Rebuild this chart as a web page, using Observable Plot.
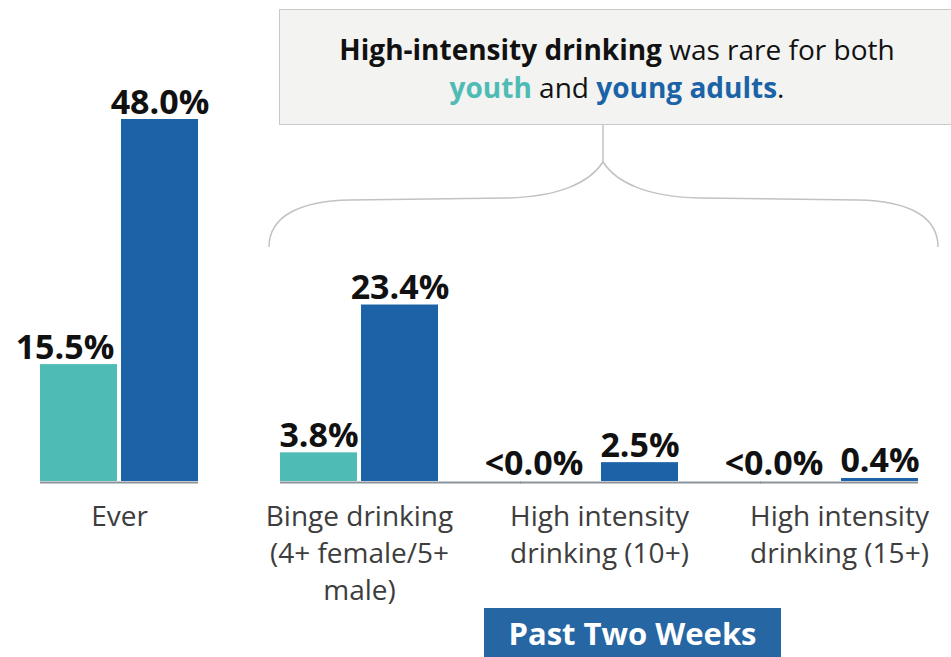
<!DOCTYPE html>
<html><head><meta charset="utf-8">
<script src="https://cdn.jsdelivr.net/npm/d3@7"></script>
<script src="https://cdn.jsdelivr.net/npm/@observablehq/plot@0.6"></script>
<style>
html,body{margin:0;padding:0;background:#fff;overflow:hidden;}
#wrap{position:relative;width:951px;height:657px;overflow:hidden;font-family:"Open Sans",sans-serif;}
#chart svg{display:block;}
#note{position:absolute;left:279px;top:9px;width:676px;height:116px;box-sizing:border-box;border:1.5px solid #c9c9c9;background:#f3f3f2;}
#noteText{position:absolute;left:0;right:0;top:20px;text-align:center;font-size:28px;line-height:38px;color:#111;white-space:nowrap;}
#noteText b{font-weight:700;}
#brace{position:absolute;left:0;top:0;}
#period{position:absolute;left:484px;top:608px;width:297px;height:60px;background:#2666a3;color:#fff;font-weight:700;font-size:31px;line-height:31px;text-align:center;box-sizing:border-box;padding-top:10px;white-space:nowrap;}
</style></head>
<body>
<div id="wrap">
  <div id="chart"></div>
  <svg id="brace" width="951" height="260">
    <path d="M603,124 L603,162" fill="none" stroke="#c2c2c2" stroke-width="1.5"/>
    <path d="M269,247 C269,216 300,201 350,200 L506,198 C560,197 590,182 603,162 C616,182 646,197 700,198 L858,200 C908,201 938,216 938,247" fill="none" stroke="#c2c2c2" stroke-width="1.5"/>
  </svg>
  <div id="note"><div id="noteText"><b>High-intensity drinking</b> was rare for both<br><b style="color:#4ebcb5">youth</b> and <b style="color:#1b63a6">young adults</b>.</div></div>
  <div id="period">Past Two Weeks</div>
</div>
<script>
const categories = ["Ever", "Binge", "HI10", "HI15"];
const categoryLabels = ["Ever", "Binge drinking\n(4+ female/5+\nmale)", "High intensity\ndrinking (10+)", "High intensity\ndrinking (15+)"];
const pastTwoWeeks = ["Binge", "HI10", "HI15"];
const series = ["youth", "young adults"];
const youthValues = [15.5, 3.8, 0, 0];
const youthLabels = ["15.5%", "3.8%", "<0.0%", "<0.0%"];
const adultValues = [48.0, 23.4, 2.5, 0.4];
const adultLabels = ["48.0%", "23.4%", "2.5%", "0.4%"];
const colors = ["#4ebcb5", "#1b63a6"];

const rows = [];
categories.forEach((c, i) => {
  rows.push({cat: c, series: series[0], value: youthValues[i], label: youthLabels[i]});
  rows.push({cat: c, series: series[1], value: adultValues[i], label: adultLabels[i]});
});
const isBelow = d => d.label.startsWith("<");
const isEverYouth = d => d.cat === categories[0] && d.series === series[0];
const normal = rows.filter(d => !isBelow(d) && !isEverYouth(d));
const everYouth = rows.filter(isEverYouth);
const below = rows.filter(isBelow);
const ruleRows = categories.map(c => ({cat: c, y: 0,
  extend: pastTwoWeeks.includes(c) && c !== pastTwoWeeks[pastTwoWeeks.length - 1]}));

const labelStyle = {fx: "cat", x: "series", y: "value", text: "label", lineAnchor: "bottom", fontSize: 34, fontWeight: 700, fill: "#111"};

const chart = Plot.plot({
  width: 951, height: 610,
  marginTop: 119, marginBottom: 129, marginLeft: 39, marginRight: 33,
  style: {fontFamily: "'Open Sans', sans-serif", background: "white", color: "#3d3d3d", overflow: "visible"},
  fx: {domain: categories, paddingInner: 0.3426, paddingOuter: 0, label: null},
  x: {domain: series, paddingInner: 0.05, paddingOuter: 0, axis: null},
  y: {domain: [0, d3.max(adultValues)], axis: null},
  color: {domain: series, range: colors},
  marks: [
    Plot.barY(rows, {fx: "cat", x: "series", y: "value", fill: "series"}),
    Plot.ruleY(ruleRows.filter(d => !d.extend), {fx: "cat", y: "y", stroke: "#8c929b", strokeWidth: 2, dy: 1}),
    Plot.ruleY(ruleRows.filter(d => d.extend), {fx: "cat", y: "y", stroke: "#8c929b", strokeWidth: 2, dy: 1, insetRight: -83}),
    Plot.text(normal, {...labelStyle, dy: -6}),
    Plot.text(everYouth, {...labelStyle, dx: -14, dy: -6}),
    Plot.text(below, {...labelStyle, dx: -25, dy: -7}),
    Plot.axisFx({anchor: "bottom", tickSize: 0, tickPadding: 18, fontSize: 28, lineHeight: 1.32, color: "#3d3d3d", label: null,
      tickFormat: d => categoryLabels[categories.indexOf(d)]})
  ]
});
document.getElementById("chart").appendChild(chart);
</script>
</body></html>
